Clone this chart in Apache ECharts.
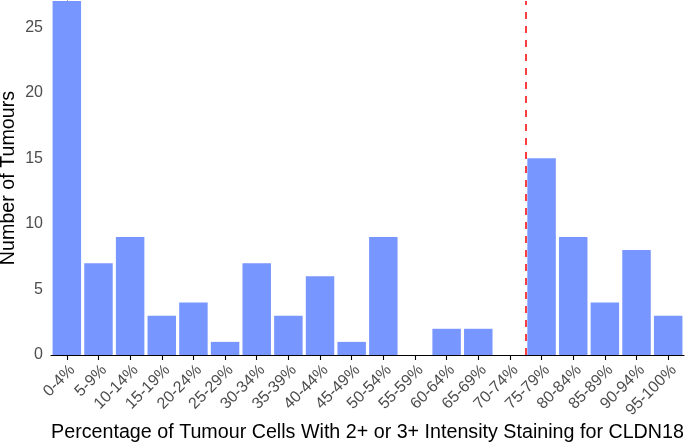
<!DOCTYPE html>
<html>
<head>
<meta charset="utf-8">
<script src="https://cdn.jsdelivr.net/npm/echarts@6/dist/echarts.min.js"></script>
<style>
html,body{margin:0;padding:0;background:#fff;}
#chart{width:686px;height:446px;}
</style>
</head>
<body>
<div id="chart"></div>
<script>
const categories = ["0-4%","5-9%","10-14%","15-19%","20-24%","25-29%","30-34%","35-39%","40-44%","45-49%","50-54%","55-59%","60-64%","65-69%","70-74%","75-79%","80-84%","85-89%","90-94%","95-100%"];
const tumourCounts = [27,7,9,3,4,1,7,3,6,1,9,0,2,2,0,15,9,4,8,3];
const yTickValues = [0,5,10,15,20,25];
const yRange = {min:0, max:27};
const cutoffPosition = 14.5; // between 70-74% and 75-79%
const xTitle = "Percentage of Tumour Cells With 2+ or 3+ Intensity Staining for CLDN18";
const yTitle = "Number of Tumours";

const font = "'Liberation Sans', Arial, Helvetica, sans-serif";
const chart = echarts.init(document.getElementById('chart'), null, {renderer:'canvas'});
chart.setOption({
  animation:false,
  backgroundColor:'#ffffff',
  grid:{left:51, right:2, top:1, bottom:91, containLabel:false, outerBoundsMode:'none'},
  xAxis:[{
    type:'category',
    data:categories,
    boundaryGap:true,
    name:xTitle,
    nameLocation:'middle',
    nameGap:68,
    nameMoveOverlap:false,
    nameTextStyle:{color:'#000', fontSize:19.7, fontFamily:font},
    axisLine:{show:true, lineStyle:{color:'#000', width:1.1}},
    axisTick:{show:true, alignWithLabel:true, length:5, lineStyle:{color:'#000', width:1.1}},
    axisLabel:{interval:0, rotate:45, margin:7, align:'right', verticalAlign:'top', color:'#4D4D4D', fontSize:16, fontFamily:font},
    splitLine:{show:false}
  },{
    type:'value', min:-0.5, max:19.5, show:false
  }],
  yAxis:{
    type:'value',
    min:yRange.min, max:yRange.max, interval:5,
    name:yTitle,
    nameLocation:'middle',
    nameGap:32,
    nameMoveOverlap:false,
    nameTextStyle:{color:'#000', fontSize:19.7, fontFamily:font},
    axisLine:{show:true, lineStyle:{color:'#000', width:1.1}},
    axisTick:{show:true, length:5, customValues:yTickValues, lineStyle:{color:'#000', width:1.1}},
    axisLabel:{margin:8, customValues:yTickValues, color:'#4D4D4D', fontSize:16, fontFamily:font},
    splitLine:{show:false}
  },
  series:[{
    type:'bar',
    data:tumourCounts,
    barCategoryGap:'10%',
    itemStyle:{color:'#7896FF'},
    clip:true
  },{
    type:'line',
    xAxisIndex:1,
    data:[],
    silent:true,
    markLine:{
      silent:true,
      symbol:['none','none'],
      label:{show:false},
      lineStyle:{color:'#FF0000', type:[7,7], width:1.5},
      data:[{xAxis:cutoffPosition}]
    }
  }]
});
</script>
</body>
</html>
